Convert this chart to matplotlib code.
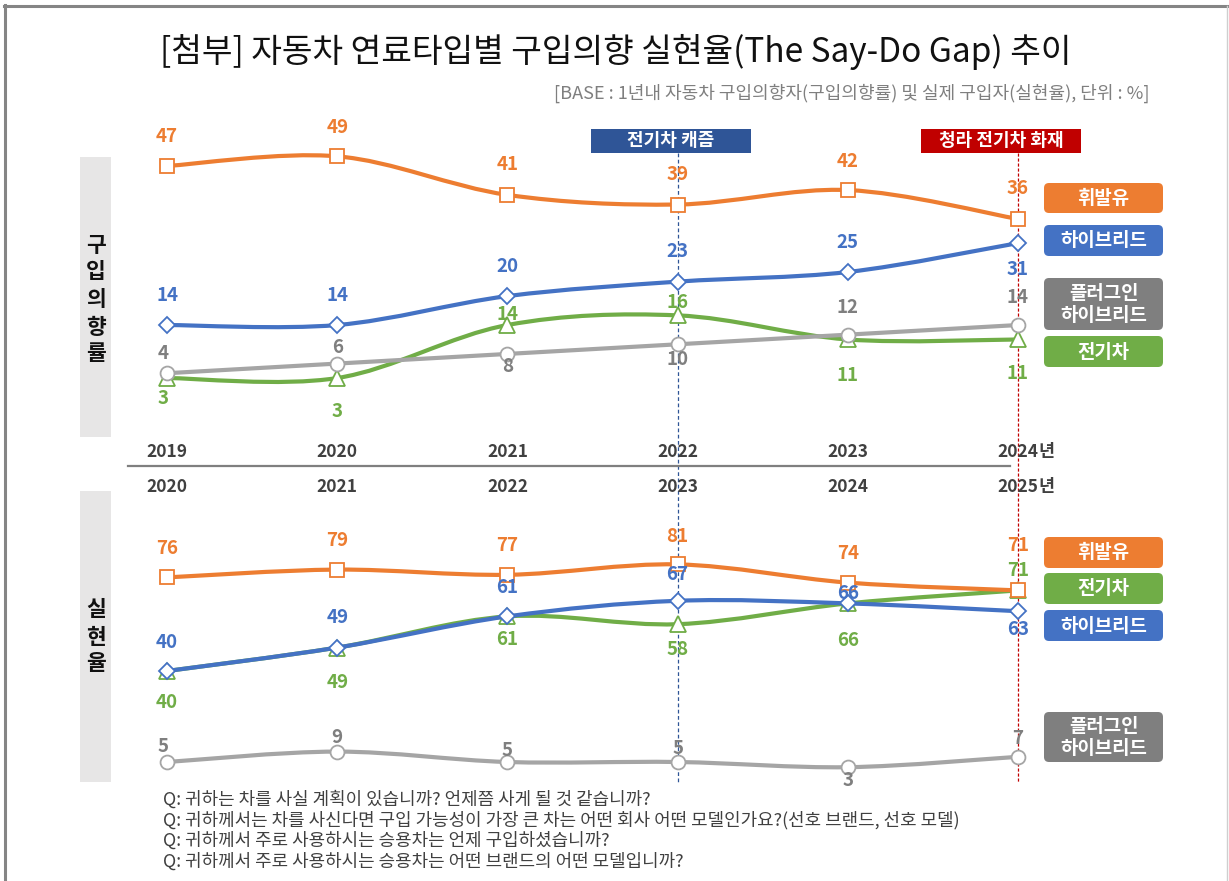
import matplotlib
matplotlib.use('Agg')
import matplotlib.pyplot as plt
from matplotlib.path import Path
from matplotlib.patches import PathPatch, FancyBboxPatch, Rectangle
from matplotlib.lines import Line2D
import matplotlib.transforms as mtransforms

plt.rcParams['font.family'] = ['Noto Sans CJK KR', 'DejaVu Sans']

# ---------------- data ----------------
intent_years = ['2019', '2020', '2021', '2022', '2023', '2024']
actual_years = ['2020', '2021', '2022', '2023', '2024', '2025']
year_suffix = '년'

intent_gasoline = [47, 49, 41, 39, 42, 36]
intent_hybrid = [14, 14, 20, 23, 25, 31]
intent_ev = [3, 3, 14, 16, 11, 11]
intent_phev = [4, 6, 8, 10, 12, 14]

actual_gasoline = [76, 79, 77, 81, 74, 71]
actual_hybrid = [40, 49, 61, 67, 66, 63]
actual_ev = [40, 49, 61, 58, 66, 71]
actual_phev = [5, 9, 5, 5, 3, 7]

series_names = ['휘발유', '하이브리드', '플러그인\n하이브리드', '전기차']
panel_titles = ['구입의향률', '실현율']
event_labels = ['전기차 캐즘', '청라 전기차 화재']
event_index = [3, 5]

title = '[첨부] 자동차 연료타입별 구입의향 실현율(The Say-Do Gap) 추이'
subtitle = '[BASE : 1년내 자동차 구입의향자(구입의향률) 및 실제 구입자(실현율), 단위 : %]'
footnotes = [
    'Q: 귀하는 차를 사실 계획이 있습니까? 언제쯤 사게 될 것 같습니까?',
    'Q: 귀하께서는 차를 사신다면 구입 가능성이 가장 큰 차는 어떤 회사 어떤 모델인가요?(선호 브랜드, 선호 모델)',
    'Q: 귀하께서 주로 사용하시는 승용차는 언제 구입하셨습니까?',
    'Q: 귀하께서 주로 사용하시는 승용차는 어떤 브랜드의 어떤 모델입니까?',
]

# ---------------- styles ----------------
C_OR = '#ED7D31'
C_BL = '#4472C4'
C_GR = '#70AD47'
C_GY = '#A5A5A5'
C_GYT = '#7F7F7F'
C_GYBOX = '#7F7F7F'

W, H = 1229, 881
fig = plt.figure(figsize=(W / 100, H / 100), dpi=100)

# overlay axes in pixel coordinates (y from top)
ov = fig.add_axes([0, 0, 1, 1], zorder=0)
ov.set_xlim(0, W)
ov.set_ylim(H, 0)
ov.axis('off')


def make_axes(L, R, T, B, x0, dx, y0, dy):
    ax = fig.add_axes([L / W, 1 - B / H, (R - L) / W, (B - T) / H], zorder=2)
    ax.set_facecolor('none')
    ax.axis('off')
    ax.set_xlim((L - x0) / dx, (R - x0) / dx)
    ax.set_ylim((y0 - B) / dy, (y0 - T) / dy)
    return ax


L, R = 120, 1040
ax1 = make_axes(L, R, 125, 445, 167, 170.2, 392.5, 4.82)
ax2 = make_axes(L, R, 500, 790, 167, 170.2, 775, 2.6)


def smooth_path(ys):
    pts = [(float(i), float(v)) for i, v in enumerate(ys)]
    n = len(pts)
    verts = [pts[0]]
    codes = [Path.MOVETO]
    for i in range(n - 1):
        p0 = pts[i - 1] if i > 0 else pts[i]
        p1 = pts[i]
        p2 = pts[i + 1]
        p3 = pts[i + 2] if i + 2 < n else pts[i + 1]
        c1 = (p1[0] + (p2[0] - p0[0]) / 6, p1[1] + (p2[1] - p0[1]) / 6)
        c2 = (p2[0] - (p3[0] - p1[0]) / 6, p2[1] - (p3[1] - p1[1]) / 6)
        verts += [c1, c2, p2]
        codes += [Path.CURVE4] * 3
    return Path(verts, codes)


def draw_series(ax, ys, color, marker, ms, label_color, offsets, z):
    ax.add_patch(PathPatch(smooth_path(ys), fill=False, edgecolor=color,
                           lw=3.0, capstyle='round', joinstyle='round',
                           zorder=z, clip_on=False))
    xs = list(range(len(ys)))
    ax.plot(xs, ys, linestyle='none', marker=marker, ms=ms, mfc='white',
            mec=color, mew=1.3, zorder=z + 0.5, clip_on=False)
    for x, v, (ox, oy) in zip(xs, ys, offsets):
        ax.annotate(str(v), xy=(x, v), xytext=(ox, oy), textcoords='offset pixels',
                    ha='center', va='center', fontsize=13.5, fontweight='bold',
                    color=label_color, zorder=10, annotation_clip=False)


# label offsets (pixels, +up)
off_i_gas = [(0, 29), (0, 29), (0, 30), (0, 30), (0, 29), (0, 30)]
off_i_hyb = [(0, 30), (0, 30), (0, 30), (0, 30), (0, 30), (0, -26)]
off_i_ev = [(-4, -20), (0, -33), (0, 11), (0, 13), (0, -36), (0, -34)]
off_i_phev = [(-4, 20), (0, 16), (0, -13), (0, -15), (0, 27), (0, 28)]

off_a_gas = [(0, 29), (0, 29), (0, 29), (0, 28), (0, 29), (0, 45)]
off_a_hyb = [(0, 29), (0, 30), (0, 29), (0, 26), (0, 10), (0, -18)]
off_a_ev = [(0, -32), (0, -35), (0, -23), (0, -25), (0, -37), (0, 20)]
off_a_phev = [(-4, 16), (0, 14), (0, 12), (0, 13), (0, -13), (0, 18)]

# upper panel
draw_series(ax1, intent_ev, C_GR, '^', 11, C_GR, off_i_ev, 3)
draw_series(ax1, intent_phev, C_GY, 'o', 10, C_GYT, off_i_phev, 4)
draw_series(ax1, intent_hybrid, C_BL, 'D', 8, C_BL, off_i_hyb, 5)
draw_series(ax1, intent_gasoline, C_OR, 's', 10.5, C_OR, off_i_gas, 6)

# lower panel
draw_series(ax2, actual_phev, C_GY, 'o', 10, C_GYT, off_a_phev, 3)
draw_series(ax2, actual_ev, C_GR, '^', 11, C_GR, off_a_ev, 4)
draw_series(ax2, actual_hybrid, C_BL, 'D', 8, C_BL, off_a_hyb, 5)
draw_series(ax2, actual_gasoline, C_OR, 's', 10.5, C_OR, off_a_gas, 6)

# ---------------- frame ----------------
ov.add_line(Line2D([4, W], [6, 6], color='#858585', lw=2.2))
ov.add_line(Line2D([5, 5], [5, H], color='#858585', lw=2.2))
ov.add_line(Line2D([W - 2, W - 2], [6, H], color='#cfcfcf', lw=1))

# title / subtitle
ov.text(616, 52, title, ha='center', va='center', fontsize=24, color='#111111')
ov.text(1150, 93, subtitle, ha='right', va='center', fontsize=13, color=C_GYT)

# event vertical lines and banners
ev_colors = ['#2F5597', '#C00000']
ev_dash = [(3, 2), (2.5, 1.5)]
for idx, lab, col, dsh, (bx0, bx1) in zip(event_index, event_labels, ev_colors, ev_dash,
                                           [(591, 751), (921, 1081)]):
    xpix = ax1.transData.transform((idx, 0))[0]
    ov.add_line(Line2D([xpix, xpix], [153, 782], color=col, lw=0.9, dashes=dsh, zorder=1))
    ov.add_patch(Rectangle((bx0, 129), bx1 - bx0, 24, facecolor=col, edgecolor='none', zorder=2))
    ov.text((bx0 + bx1) / 2, 141, lab, ha='center', va='center', fontsize=13,
            fontweight='bold', color='white', zorder=3)

# separator
ov.add_line(Line2D([128, 1010], [466, 466], color='#7F7F7F', lw=1.6))

# year labels
for ax, yrs, ypix in [(ax1, intent_years, 452), (ax2, actual_years, 487)]:
    tr = mtransforms.blended_transform_factory(ax.transData, ov.transData)
    for i, y in enumerate(yrs):
        ax.text(i, ypix, y, transform=tr, ha='center', va='center', fontsize=12.5,
                fontweight='bold', color='#404040', zorder=10, clip_on=False)
    ax.annotate(year_suffix, xy=(len(yrs) - 1, ypix), xycoords=tr, xytext=(28, 0),
                textcoords='offset pixels', ha='center', va='center', fontsize=12.5,
                fontweight='bold', color='#404040', annotation_clip=False)

# left panel boxes with vertical text
for (y0, y1), txt, ycs in [((157, 437), panel_titles[0], [245, 272, 300, 327, 353]),
                           ((491, 782), panel_titles[1], [609, 637, 664])]:
    ov.add_patch(Rectangle((80, y0), 31, y1 - y0, facecolor='#E7E6E6', edgecolor='none'))
    for ch, yc in zip(txt, ycs):
        ov.text(96, yc, ch, ha='center', va='center', fontsize=15.5, fontweight='bold',
                color='#111111')

# right legend boxes
upper_boxes = [(series_names[0], C_OR, 183, 213), (series_names[1], C_BL, 225, 256),
               (series_names[2], C_GYBOX, 278, 330), (series_names[3], C_GR, 336, 367)]
lower_boxes = [(series_names[0], C_OR, 537, 568), (series_names[3], C_GR, 573, 604),
               (series_names[1], C_BL, 610, 641), (series_names[2], C_GYBOX, 712, 762)]
for name, col, y0, y1 in upper_boxes + lower_boxes:
    ov.add_patch(FancyBboxPatch((1044, y0), 119, y1 - y0,
                                boxstyle='round,pad=0,rounding_size=5',
                                facecolor=col, edgecolor='none'))
    ov.text(1103.5, (y0 + y1) / 2 + 0.5, name, ha='center', va='center', fontsize=13.6,
            fontweight='bold', color='white', linespacing=1.15)

# footnotes
for k, line in enumerate(footnotes):
    ov.text(163, 799 + 21 * k, line, ha='left', va='center', fontsize=12.9, color='#404040')

fig.savefig('out.png', dpi=100)
